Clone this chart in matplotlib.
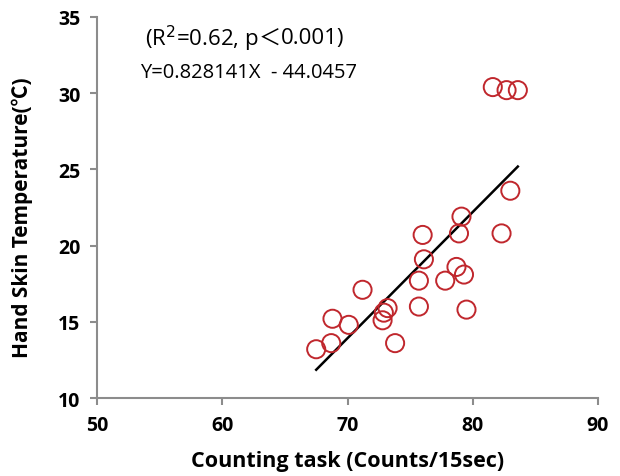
import numpy as np
import matplotlib.pyplot as plt

plt.rcParams['font.family'] = ['Open Sans', 'Noto Sans CJK KR', 'DejaVu Sans']

# counts per 15 s and hand skin temperature
counts = [67.5, 68.7, 68.8, 70.1, 71.2, 72.8, 72.9, 73.2, 73.8, 75.7,
          75.7, 76.0, 76.1, 77.8, 78.7, 79.3, 79.1, 78.9, 79.5, 82.3,
          83.0, 81.6, 82.7, 83.6]
temps = [13.2, 13.6, 15.2, 14.8, 17.1, 15.1, 15.6, 15.9, 13.6, 16.0,
         17.7, 20.7, 19.1, 17.7, 18.6, 18.1, 21.9, 20.8, 15.8, 20.8,
         23.6, 30.4, 30.2, 30.2]

slope = 0.828141
intercept = -44.0457

fig = plt.figure(figsize=(6.2, 4.77), dpi=100)
ax = fig.add_axes([0.1565, 0.1635, 0.808, 0.7988])

ax.scatter(counts, temps, s=170, facecolors='none', edgecolors='#c0272d',
           linewidths=1.4, zorder=3)

fit_x = np.array([min(counts), max(counts)])
ax.plot(fit_x, slope * fit_x + intercept, color='black', lw=1.8, zorder=2)

ax.set_xlim(50, 90)
ax.set_ylim(10, 35)
ax.set_xticks([50, 60, 70, 80, 90])
ax.set_yticks([10, 15, 20, 25, 30, 35])

for side in ['top', 'right']:
    ax.spines[side].set_visible(False)
for side in ['left', 'bottom']:
    ax.spines[side].set_color('#8c8c8c')
    ax.spines[side].set_linewidth(1.5)
ax.tick_params(direction='out', length=5, width=1.5, color='#8c8c8c',
               labelsize=14, pad=7)
for lbl in ax.get_xticklabels() + ax.get_yticklabels():
    lbl.set_fontweight('bold')

ax.set_xlabel('Counting task (Counts/15sec)', fontsize=15.5, fontweight='bold', labelpad=11)
ax.set_ylabel('Hand Skin Temperature(℃)', fontsize=15, fontweight='bold')
ax.yaxis.set_label_coords(-0.127, 0.475)

# R^2 line, built in pieces so the full-width "<" comes from the CJK font
t1 = ax.text(0.096, 0.945, '(R$^2$=0.62, p', transform=ax.transAxes,
             fontsize=16, va='center')
t2 = ax.annotate('＜', xy=(1, 0.5), xycoords=t1, fontsize=16, va='center',
                 family='Noto Sans CJK KR')
ax.annotate('0.001)', xy=(1, 0.5), xycoords=t2, fontsize=16, va='center')
ax.text(0.086, 0.855, 'Y=0.828141X  - 44.0457', transform=ax.transAxes,
        fontsize=14.5, va='center')

fig.savefig('out.png', dpi=100)
